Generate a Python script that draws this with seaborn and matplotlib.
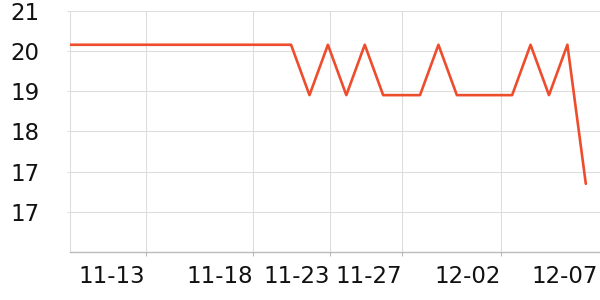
import matplotlib
matplotlib.use("Agg")
import matplotlib.pyplot as plt
import seaborn as sns
import pandas as pd

# data
point_index = list(range(29))
values = [20.15] * 13 + [18.9, 20.15, 18.9, 20.15, 18.9, 18.9, 18.9, 20.15,
                         18.9, 18.9, 18.9, 18.9, 20.15, 18.9, 20.15, 16.7]
x_tick_pos = [4.1, 9.96, 14.09, 18.02, 23.4, 28.66]
x_tick_labels = ["11-13", "11-18", "11-23", "11-27", "12-02", "12-07"]
y_tick_pos = [21, 20, 19, 18, 17, 16]
y_tick_labels = ["21", "20", "19", "18", "17", "17"]

df = pd.DataFrame({"x": point_index, "value": values})

sns.set_theme(style="white")
plt.rcParams["font.family"] = ["DejaVu Sans"]

fig = plt.figure(figsize=(6, 3), dpi=100)
ax = fig.add_axes([70 / 600, (300 - 252.3) / 300, 530 / 600, (252.3 - 10.5) / 300])

sns.lineplot(data=df, x="x", y="value", ax=ax, color="#ee4d2d", linewidth=1.9)

ax.set_xlim(0, 28.77)
ax.set_ylim(15, 21)
ax.set_xticks(x_tick_pos)
ax.set_xticklabels(x_tick_labels, ha="right")
ax.set_yticks(y_tick_pos)
ax.set_yticklabels(y_tick_labels)
ax.set_xlabel("")
ax.set_ylabel("")

ax.grid(True, color="#dddddd", linewidth=0.8)
ax.set_axisbelow(True)
ax.axvline(0, color="#dddddd", linewidth=0.8, zorder=0)

for s in ["top", "right", "left"]:
    ax.spines[s].set_visible(False)
ax.spines["bottom"].set_color("#bbbbbb")
ax.spines["bottom"].set_linewidth(1.0)

ax.tick_params(axis="x", length=3, width=0.8, color="#bbbbbb", pad=6.5,
               labelsize=16.5, labelcolor="#111111", bottom=True)
ax.tick_params(axis="y", length=2, width=0.8, color="#dddddd", pad=20,
               labelsize=16.5, labelcolor="#111111", left=True)

# last x tick has label only (no tick mark / gridline)
last_tick = ax.xaxis.get_major_ticks()[-1]
last_tick.tick1line.set_visible(False)
last_tick.gridline.set_visible(False)

fig.savefig("out.png", dpi=100)
